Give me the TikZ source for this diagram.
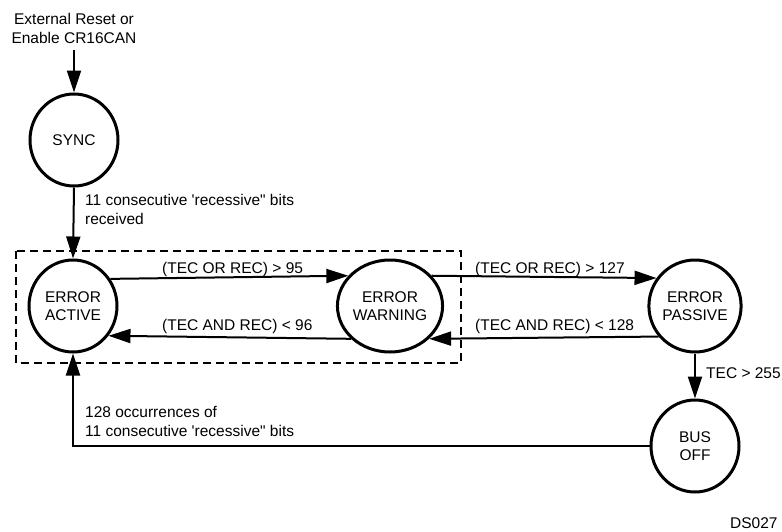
\documentclass[tikz,border=0pt]{standalone}
\usepackage{fontspec}
\newfontfamily\arial{Liberation Sans}
\usetikzlibrary{arrows.meta,shapes.geometric,positioning}
\begin{document}
\begin{tikzpicture}[x=1pt,y=-1pt,
  state/.style={ellipse,draw,line width=3pt,minimum width=88pt,minimum height=92pt,inner sep=0pt,align=center,font=\arial\fontsize{15.5}{18}\selectfont},
  conn/.style={line width=2pt,-{Triangle[length=22pt,width=14pt]}},
  lbl/.style={font=\arial\fontsize{15.5}{19}\selectfont,inner sep=0pt,align=left},
  box/.style={line width=1.8pt,dash pattern=on 8pt off 5pt}]
\clip (0,0) rectangle (782,531);
\fill[white] (0,0) rectangle (782,531);
\node[lbl,align=center] (ext) at (74,28) {External Reset or\\Enable CR16CAN};
\node[state] (sync) at (74,140) {SYNC};
\node[state] (ea) at (73,306) {ERROR\\ACTIVE};
\node[state] (ew) at (390,306) {ERROR\\WARNING};
\node[state] (ep) at (695,306) {ERROR\\PASSIVE};
\node[state] (bo) at (695,446) {BUS\\OFF};
\draw[box] (16,251) rectangle (461,363);
\draw[conn] (ext.south |- 0,50) -- (sync.north);
\draw[conn] (sync.south) -- (ea.north);
\draw[conn] (ea.36) -- (ew.144);
\draw[conn] (ew.220) -- (ea.320);
\draw[conn] (ew.36) -- (ep.144);
\draw[conn] (ep.220) -- (ew.320);
\draw[conn] (ep.south) -- (bo.north);
\draw[conn] (bo.west) -| (ea.south);
\node[lbl,anchor=north west] (l1) at (85,194) {11 consecutive 'recessive" bits\\received};
\node[lbl,anchor=base west] (l2) at (162,273) {(TEC OR REC) > 95};
\node[lbl,anchor=base west] (l3) at (162,330) {(TEC AND REC) < 96};
\node[lbl,anchor=base west] (l4) at (475,273) {(TEC OR REC) > 127};
\node[lbl,anchor=base west] (l5) at (475,330) {(TEC AND REC) < 128};
\node[lbl,anchor=base west] (l6) at (706,378) {TEC > 255};
\node[lbl,anchor=north west] (l7) at (85,406) {128 occurrences of\\11 consecutive 'recessive" bits};
\node[lbl,anchor=base west] (ds) at (730,528) {DS027};
\end{tikzpicture}
\end{document}
